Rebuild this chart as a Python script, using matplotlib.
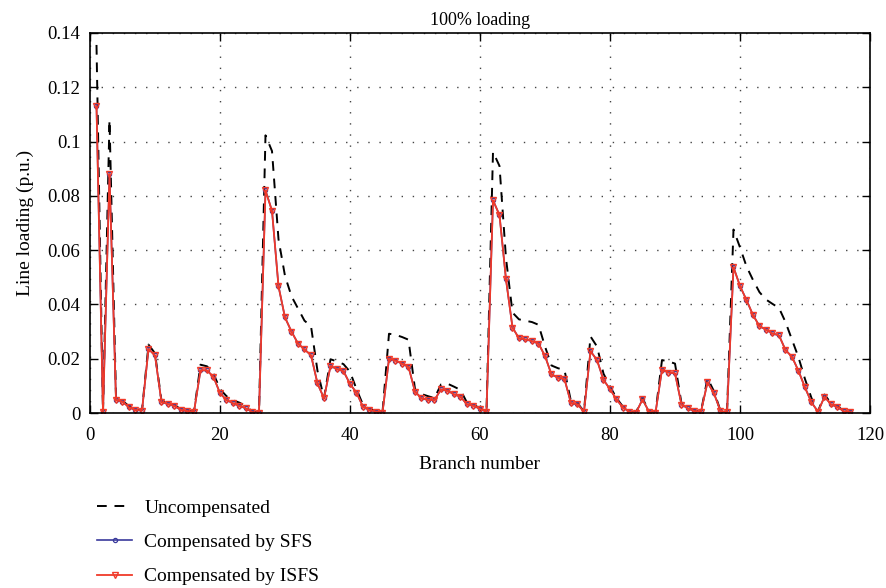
import matplotlib.pyplot as plt
import numpy as np

plt.rcParams['font.family'] = ['Liberation Serif', 'DejaVu Serif']

branch = np.arange(1, 118)

uncomp = [0.1356, 0.0003, 0.108, 0.006, 0.0045, 0.0025, 0.0013, 0.001, 0.0252, 0.022,
          0.0045, 0.0037, 0.003, 0.0013, 0.0009, 0.0006, 0.0178, 0.0172, 0.0145, 0.0088,
          0.0062, 0.0047, 0.0038, 0.0025, 0.0005, 0.0002, 0.1023, 0.0965, 0.064, 0.0505,
          0.043, 0.0385, 0.034, 0.032, 0.0155, 0.0055, 0.0198, 0.019, 0.018, 0.0152,
          0.0088, 0.003, 0.0015, 0.0008, 0.0003, 0.0292, 0.0288, 0.028, 0.027, 0.0088,
          0.007, 0.0062, 0.0055, 0.0105, 0.0108, 0.0097, 0.0085, 0.0038, 0.003, 0.0018,
          0.0006, 0.0962, 0.091, 0.057, 0.037, 0.0345, 0.034, 0.0335, 0.0325, 0.0245,
          0.0175, 0.0165, 0.0158, 0.0042, 0.0036, 0.0006, 0.0282, 0.0245, 0.0145, 0.0098,
          0.0055, 0.0023, 0.0006, 0.0002, 0.0055, 0.0006, 0.0002, 0.0195, 0.019, 0.0182,
          0.0035, 0.002, 0.0008, 0.0006, 0.0128, 0.008, 0.0008, 0.0003, 0.0676, 0.061,
          0.054, 0.049, 0.0445, 0.0418, 0.0402, 0.0387, 0.0335, 0.027, 0.0205, 0.0125,
          0.0055, 0.0006, 0.0068, 0.0036, 0.0025, 0.0007, 0.0004]

# SFS and ISFS lie on top of each other in the figure
sfs = [0.113, 0.0003, 0.088, 0.0048, 0.0042, 0.0021, 0.0011, 0.0009, 0.0236, 0.0212,
       0.004, 0.0033, 0.0026, 0.0011, 0.0007, 0.0005, 0.0157, 0.0157, 0.0133, 0.0073,
       0.0048, 0.0036, 0.0026, 0.0017, 0.0003, 0.0001, 0.082, 0.0745, 0.0467, 0.0352,
       0.03, 0.0256, 0.0234, 0.0213, 0.0109, 0.0054, 0.0173, 0.0162, 0.0154, 0.0107,
       0.0075, 0.0023, 0.0011, 0.0005, 0.0001, 0.02, 0.0193, 0.0182, 0.017, 0.0079,
       0.0054, 0.0048, 0.0048, 0.0087, 0.0082, 0.0069, 0.006, 0.0032, 0.0027, 0.0015,
       0.0005, 0.0784, 0.0729, 0.0492, 0.0315, 0.0275, 0.0271, 0.0265, 0.0256, 0.021,
       0.0142, 0.013, 0.0125, 0.0036, 0.0032, 0.0005, 0.0228, 0.0195, 0.0122, 0.0088,
       0.005, 0.002, 0.0005, 0.0001, 0.005, 0.0005, 0.0001, 0.016, 0.0149, 0.0146,
       0.0031, 0.0017, 0.0007, 0.0005, 0.0113, 0.0072, 0.0007, 0.0002, 0.0537, 0.0468,
       0.0416, 0.0361, 0.032, 0.0307, 0.0293, 0.0286, 0.0232, 0.0207, 0.0155, 0.0094,
       0.0039, 0.0005, 0.006, 0.0032, 0.0022, 0.0006, 0.0004]

isfs = [0.113, 0.0003, 0.088, 0.0048, 0.0042, 0.0021, 0.0011, 0.0009, 0.0236, 0.0212,
        0.004, 0.0033, 0.0026, 0.0011, 0.0007, 0.0005, 0.0157, 0.0157, 0.0133, 0.0073,
        0.0048, 0.0036, 0.0026, 0.0017, 0.0003, 0.0001, 0.082, 0.0745, 0.0467, 0.0352,
        0.03, 0.0256, 0.0234, 0.0213, 0.0109, 0.0054, 0.0173, 0.0162, 0.0154, 0.0107,
        0.0075, 0.0023, 0.0011, 0.0005, 0.0001, 0.02, 0.0193, 0.0182, 0.017, 0.0079,
        0.0054, 0.0048, 0.0048, 0.0087, 0.0082, 0.0069, 0.006, 0.0032, 0.0027, 0.0015,
        0.0005, 0.0784, 0.0729, 0.0492, 0.0315, 0.0275, 0.0271, 0.0265, 0.0256, 0.021,
        0.0142, 0.013, 0.0125, 0.0036, 0.0032, 0.0005, 0.0228, 0.0195, 0.0122, 0.0088,
        0.005, 0.002, 0.0005, 0.0001, 0.005, 0.0005, 0.0001, 0.016, 0.0149, 0.0146,
        0.0031, 0.0017, 0.0007, 0.0005, 0.0113, 0.0072, 0.0007, 0.0002, 0.0537, 0.0468,
        0.0416, 0.0361, 0.032, 0.0307, 0.0293, 0.0286, 0.0232, 0.0207, 0.0155, 0.0094,
        0.0039, 0.0005, 0.006, 0.0032, 0.0022, 0.0006, 0.0004]

fig = plt.figure(figsize=(8.87, 5.88), dpi=100)
ax = fig.add_axes([90 / 887, 1 - 413 / 588, 780 / 887, 380 / 588])

ax.plot(branch, uncomp, color='black', linestyle=(0, (5, 4)), linewidth=1.4, label="Uncompensated")
ax.plot(branch, sfs, color='#3a3a9c', linewidth=1.2, marker='o', markersize=3,
        markerfacecolor='none', markeredgewidth=0.9, label="Compensated by SFS")
ax.plot(branch, isfs, color='#f03a2a', linewidth=1.3, marker='v', markersize=4.5,
        markerfacecolor='none', markeredgewidth=1.0, label="Compensated by ISFS")

ax.set_xlim(0, 120)
ax.set_ylim(0, 0.14)
ax.set_xticks(range(0, 121, 20))
ax.set_yticks(np.arange(0, 0.141, 0.02))
ax.set_yticklabels(['0', '0.02', '0.04', '0.06', '0.08', '0.1', '0.12', '0.14'])
ax.grid(True, color='#444444', linestyle=(0, (1, 7)), linewidth=1.0)
ax.tick_params(direction='in', top=True, right=True, length=6, labelsize=13.5, width=1)
ax.tick_params(axis='x', pad=10)
ax.tick_params(axis='y', pad=7)
for s in ax.spines.values():
    s.set_linewidth(1.2)

ax.set_xlabel("Branch number", fontsize=14, labelpad=9)
ax.set_ylabel("Line loading (p.u.)", fontsize=14, labelpad=10)
ax.set_title("100% loading", fontsize=13, pad=6)

fig.legend(loc='upper left', bbox_to_anchor=(80 / 887, 1 - 482 / 588), frameon=False,
           fontsize=14, labelspacing=0.85, handlelength=1.8, handletextpad=0.6)

plt.savefig('out.png', dpi=100)
